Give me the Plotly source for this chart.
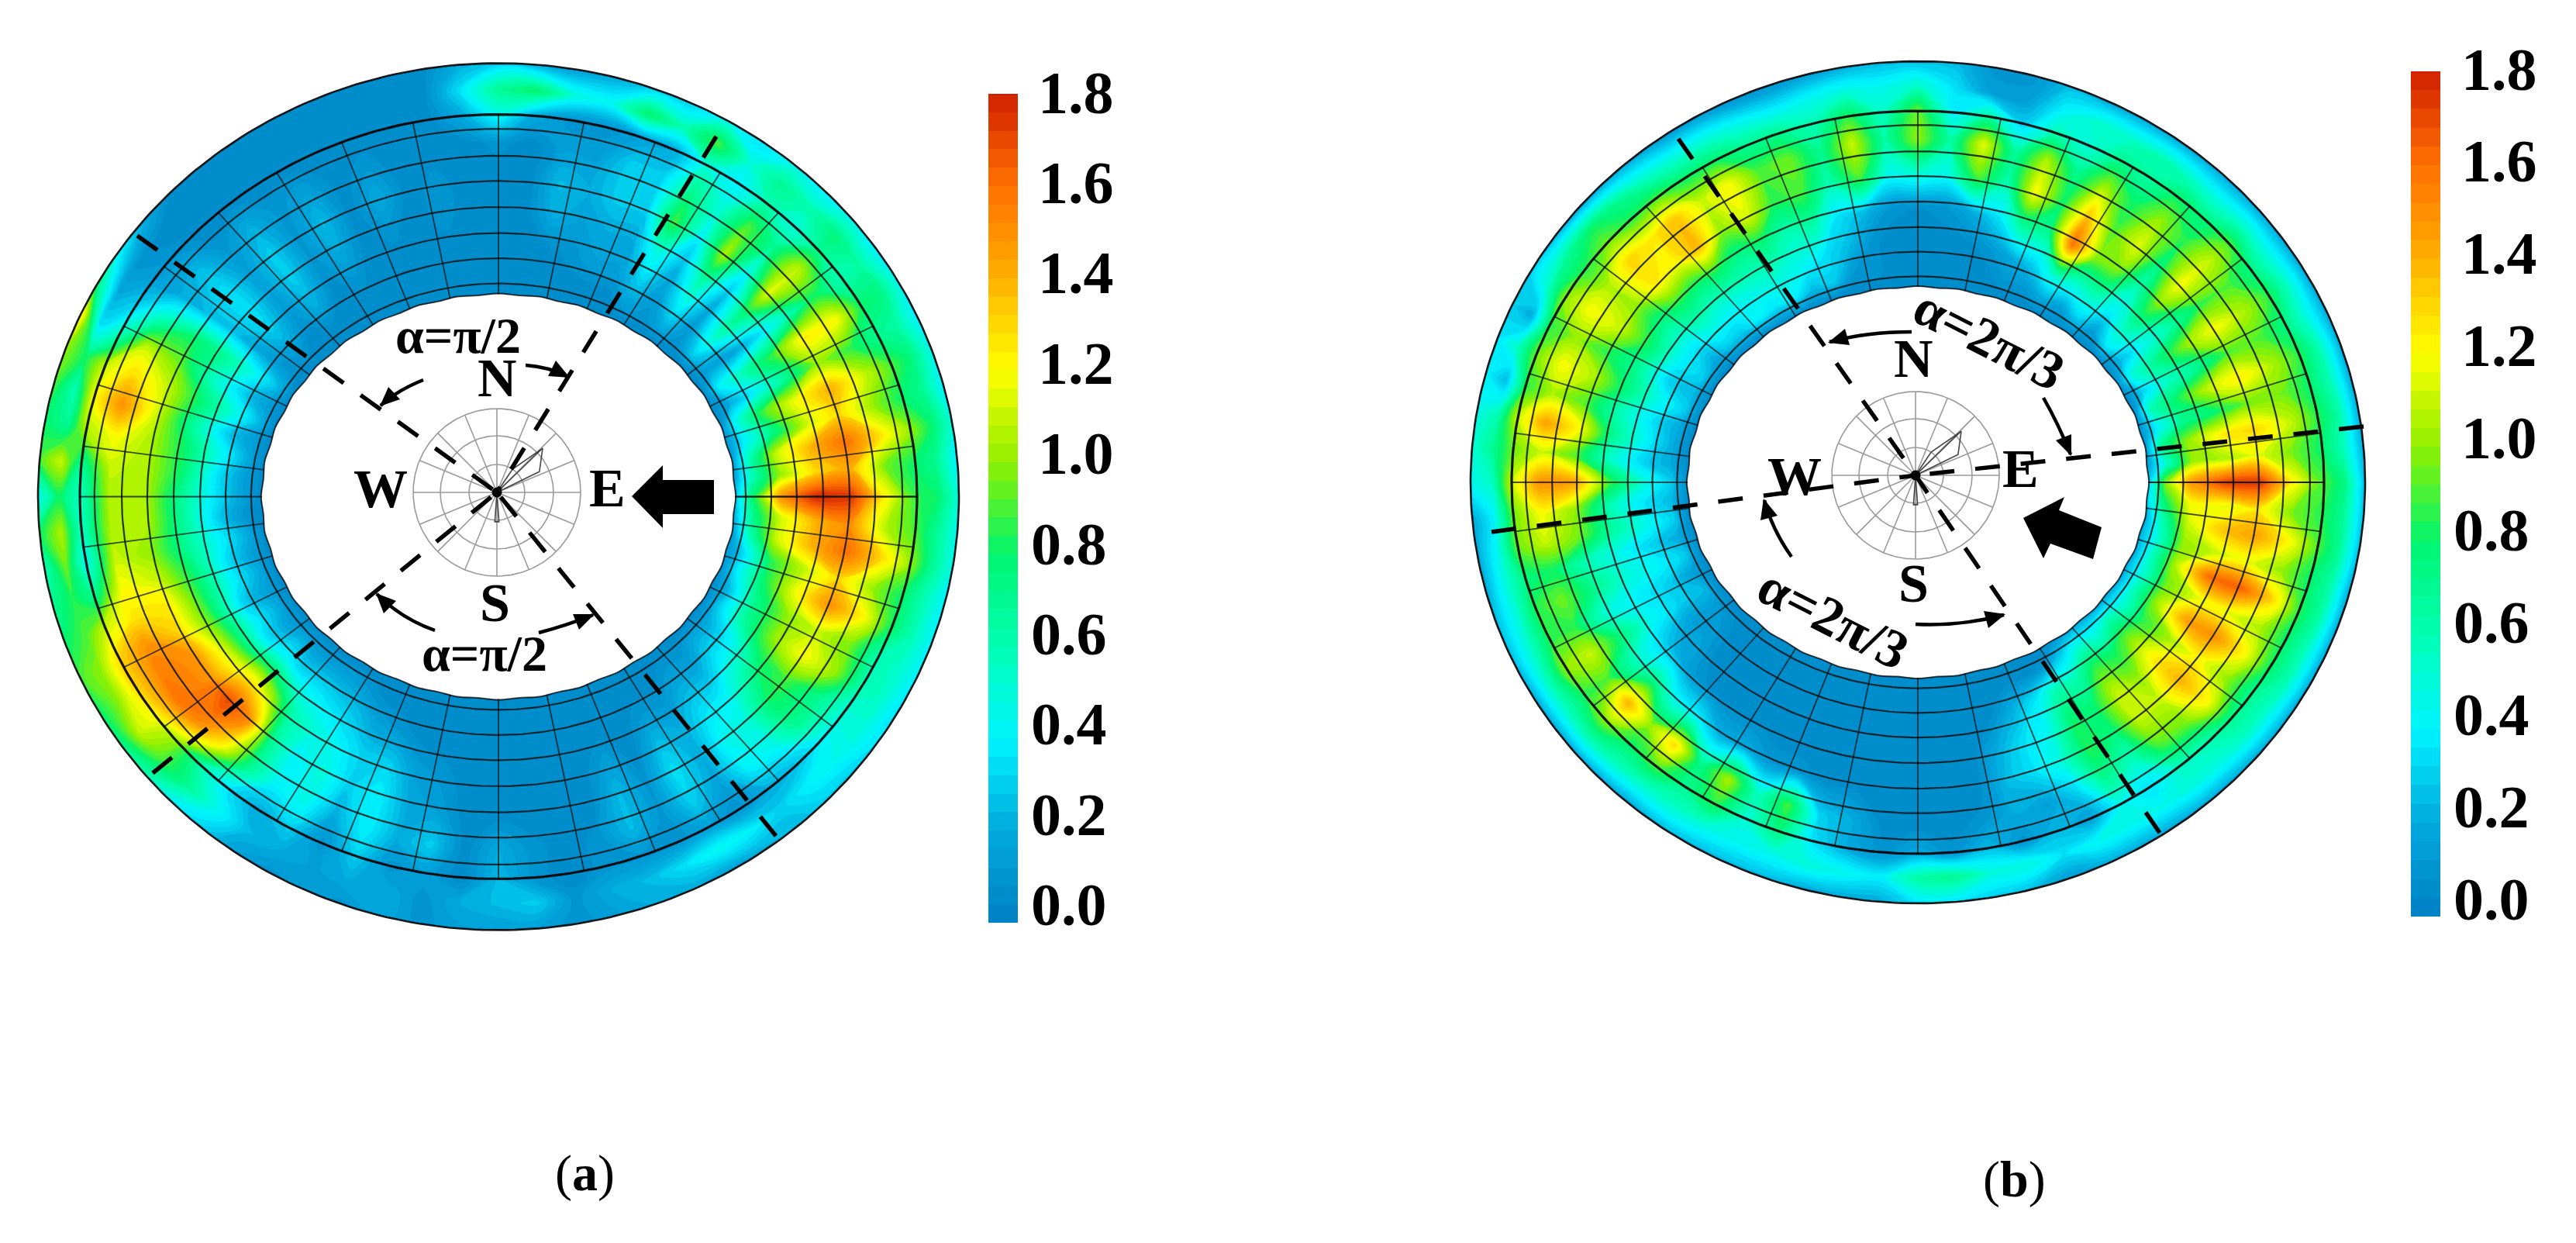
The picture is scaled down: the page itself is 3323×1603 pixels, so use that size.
import numpy as np
import plotly.graph_objects as go

W, H = 3323, 1603
FONT = "Liberation Serif"

# Colour bar scale
cb_ticks = [1.8, 1.6, 1.4, 1.2, 1.0, 0.8, 0.6, 0.4, 0.2, 0.0]
cb_text = ["1.8", "1.6", "1.4", "1.2", "1.0", "0.8", "0.6", "0.4", "0.2", "0.0"]

# Radial stations of the tables (0 = hole edge, 1 = bold ring, 1.285 = rim); columns run every 5 deg CCW from E
stations = [0, 0.10, 0.25, 0.45, 0.64, 0.84, 1.0, 1.14, 1.285]
grid_rings = [0.06, 0.20, 0.34, 0.485, 0.63, 0.77, 0.92]
spoke_q = [0, 7.6, 17, 26.5, 37, 48, 58, 68, 78.2]
inner_wave = [1.004, 0.998] * 36

# Panel (a)
a_r0 = [.3,.15,.15,.1,.1,.05,.05,.05,.05,.05,.05,.05,.05,.05,.05,.05,.05,.05,
        .05,.05,.05,.05,.05,.05,.05,.05,.05,.05,.05,.05,.05,.05,.05,.05,.05,.05,
        .05,.05,.05,.05,.05,.05,.05,.05,.05,.05,.05,.05,.05,.05,.05,.05,.05,.05,
        .05,.05,.05,.05,.05,.05,.05,.05,.05,.05,.05,.05,.05,.05,.1,.1,.15,.2]
a_r1 = [.8,.6,.6,.4,.5,.2,.4,.15,.3,.1,.2,.1,.15,.05,.05,.05,.05,.05,
        .05,.05,.05,.05,.05,.05,.05,.05,.05,.05,.1,.1,.25,.15,.25,.15,.2,.15,
        .15,.1,.2,.15,.2,.15,.2,.15,.2,.15,.15,.15,.1,.05,.05,.05,.05,.05,
        .05,.05,.05,.05,.05,.05,.05,.05,.1,.1,.2,.2,.3,.25,.4,.35,.6,.7]
a_r2 = [1.5,1.0,1.1,.7,.9,.4,.6,.15,.55,.15,.4,.15,.3,.15,.15,.1,.05,.05,
        .05,.05,.05,.05,.05,.05,.1,.05,.2,.1,.25,.15,.45,.3,.5,.3,.45,.35,
        .35,.3,.4,.35,.4,.3,.4,.35,.45,.35,.35,.3,.25,.15,.1,.05,.05,.05,
        .05,.05,.05,.05,.05,.05,.1,.1,.2,.2,.35,.4,.65,.7,.8,.85,1.1,1.1]
a_r3 = [1.8,1.3,1.4,1.1,1.2,.7,.9,.35,.75,.25,.65,.25,.5,.2,.2,.15,.2,.05,
        .05,.05,.1,.05,.1,.05,.2,.1,.3,.15,.35,.25,.7,.6,.8,.7,.8,.8,
        .7,.7,.7,.8,.85,.9,1.0,1.1,1.2,1.0,.6,.5,.4,.3,.3,.15,.1,.05,
        .05,.05,.05,.05,.15,.05,.25,.2,.35,.4,.6,.8,1.0,1.0,1.2,1.1,1.4,1.4]
a_r4 = [1.75,1.4,1.6,1.3,1.4,1.0,1.25,.6,1.15,.45,1.05,.4,.9,.3,.3,.2,.25,.05,
        .05,.05,.1,.05,.2,.05,.25,.1,.3,.15,.35,.25,.8,.95,1.1,1.1,1.05,1.05,
        1.05,1.05,1.0,1.1,1.25,1.3,1.5,1.5,1.7,1.5,.7,.4,.5,.3,.4,.2,.15,.05,
        .05,.05,.05,.05,.25,.1,.35,.2,.45,.5,.8,.9,1.2,1.1,1.5,1.3,1.6,1.5]
a_r5 = [1.2,.95,1.25,1.0,1.1,.85,1.2,.8,1.1,.7,.9,.5,.7,.3,.3,.15,.15,.05,
        .1,.05,.05,.05,.1,.05,.15,.1,.2,.1,.25,.2,.6,1.1,1.3,1.5,1.2,1.1,
        1.05,1.05,1.1,1.2,1.25,1.5,1.55,1.6,1.5,1.2,.7,.4,.45,.2,.4,.2,.3,.05,
        .2,.1,.05,.1,.25,.1,.3,.15,.4,.45,.7,.7,1.0,.95,1.2,1.0,1.3,1.05]
a_r6 = [.85,.8,1.0,.8,.9,.7,.8,.6,.7,.5,.6,.4,.5,.2,.15,.1,.1,.2,
        .45,.2,.05,.05,.05,.05,.05,.05,.05,.05,.1,.15,.3,.6,1.1,1.2,1.05,.7,
        .55,.55,.45,.7,1.1,1.3,1.3,1.2,1.0,.6,.35,.2,.3,.1,.3,.1,.15,.05,
        .25,.1,.05,.1,.1,.1,.15,.1,.2,.25,.4,.5,.6,.6,.8,.8,1.0,.9]
a_r7 = [.8,.7,.8,.7,.75,.65,.75,.65,.75,.6,.7,.5,.9,.6,.8,.45,.5,.8,
        .7,.35,.05,.05,.05,.05,.05,.05,.05,.05,.05,.1,.2,.35,.8,.6,.7,1.1,
        .8,1.05,.95,.85,.9,1.0,1.0,1.1,.9,.7,.45,.25,.2,.15,.2,.2,.1,.2,
        .25,.3,.1,.2,.25,.35,.45,.4,.3,.4,.45,.5,.55,.55,.6,.6,.7,.7]
a_r8 = [.5,.4,.5,.4,.45,.4,.45,.4,.45,.4,.45,.35,.45,.3,.3,.2,.15,.2,
        .3,.2,.05,.05,.05,.05,.05,.05,.05,.05,.2,.4,.7,1.3,1.0,.9,.8,.9,
        .45,.8,.6,.7,.8,.9,.8,.7,.6,.4,.3,.15,.1,.15,.1,.2,.1,.15,
        .15,.15,.1,.15,.2,.2,.15,.2,.25,.3,.3,.35,.35,.4,.4,.4,.45,.45]

# Panel (b)
b_r0 = [.3,.15,.15,.1,.1,.05,.1,.05,.05,.05,.05,.05,.05,.05,.05,.05,.05,.05,
        .05,.05,.05,.05,.05,.05,.05,.05,.05,.05,.05,.05,.05,.05,.05,.05,.05,.05,
        .1,.05,.05,.05,.05,.05,.05,.05,.05,.05,.05,.05,.05,.05,.05,.05,.05,.05,
        .05,.05,.05,.05,.05,.05,.05,.1,.2,.2,.2,.2,.2,.2,.2,.2,.2,.3]
b_r1 = [1.0,.5,.7,.4,.6,.3,.5,.25,.4,.15,.3,.15,.2,.1,.1,.05,.05,.05,
        .05,.05,.1,.1,.3,.25,.4,.35,.4,.3,.3,.2,.3,.25,.3,.2,.2,.2,
        .3,.25,.3,.2,.3,.15,.25,.15,.1,.05,.05,.05,.05,.05,.05,.05,.05,.05,
        .05,.05,.05,.05,.05,.05,.1,.3,.5,.45,.6,.5,.55,.5,.55,.5,.6,.8]
b_r2 = [1.5,1.0,1.0,.7,.8,.55,.7,.45,.6,.4,.55,.5,.55,.3,.2,.1,.05,.05,
        .05,.05,.1,.25,.35,.45,.5,.5,.45,.45,.5,.4,.4,.3,.45,.35,.4,.3,
        .5,.35,.45,.3,.4,.3,.3,.15,.15,.05,.05,.05,.05,.05,.05,.05,.05,.05,
        .05,.05,.05,.05,.2,.35,.6,.6,.85,.8,.95,.85,1.0,.95,1.05,1.0,1.1,1.2]
b_r3 = [1.75,1.05,1.25,.8,1.1,.7,1.0,.65,.95,.6,.95,1.0,1.6,.7,.7,.35,.2,.1,
        .08,.1,.25,.35,.65,.6,.75,.7,.8,.75,.8,.7,.8,.7,.75,.6,.7,.55,
        .9,.6,.65,.45,.5,.4,.45,.3,.2,.1,.05,.05,.05,.05,.05,.05,.05,.05,
        .05,.05,.05,.2,.35,.45,.8,.8,1.1,1.0,1.25,1.05,1.45,1.15,1.6,1.1,1.35,1.15]
b_r4 = [1.75,1.15,1.3,.95,1.25,.9,1.2,.85,1.2,.75,1.15,.9,1.35,.8,1.2,.6,.9,.45,
        .5,.45,.9,.6,.9,.85,1.15,1.0,1.4,1.2,1.25,1.0,1.1,.85,1.05,.9,1.2,.9,
        1.45,1.0,.95,.6,.7,.5,.75,.55,.7,.45,.4,.2,.2,.1,.1,.05,.05,.05,
        .05,.05,.05,.25,.35,.5,.85,.75,1.1,1.1,1.4,1.2,1.5,1.15,1.65,1.15,1.45,1.25]
b_r5 = [1.2,.95,1.1,.95,1.05,.9,1.05,.9,1.1,.85,1.0,.8,1.0,.7,1.05,.65,1.15,.65,
        1.0,.65,1.1,.7,.95,.9,1.2,1.1,1.35,1.25,1.3,1.05,1.2,1.0,1.2,1.05,1.45,1.1,
        1.5,1.2,1.1,.8,.95,.85,1.1,.9,1.4,1.0,1.3,.7,1.05,.55,.9,.3,.2,.05,
        .05,.05,.1,.2,.15,.3,.7,.55,.9,.95,1.2,1.0,1.2,1.05,1.3,1.0,1.2,.95]
b_r6 = [.9,.8,.85,.8,.85,.75,.85,.75,.9,.75,.8,.65,.7,.5,.6,.3,.65,.4,
        .95,.55,.85,.6,.7,.7,.8,.8,.9,.85,.95,.85,1.0,.85,.95,.85,1.1,.95,
        1.1,.95,.95,.75,.85,.85,1.0,.85,1.0,.8,.9,.7,.85,.5,.75,.35,.2,.1,
        .2,.1,.25,.1,.25,.15,.45,.35,.55,.6,.7,.7,.8,.8,.85,.8,.9,.85]
b_r7 = [.75,.6,.65,.6,.6,.5,.55,.5,.55,.5,.55,.6,.55,.55,.4,.15,.15,.35,
        .55,.45,.5,.45,.4,.45,.5,.5,.55,.7,.8,.7,.55,.2,.55,.25,.6,.7,
        .55,.4,.45,.5,.5,.55,.6,.6,.65,.6,.55,.55,.5,.45,.45,.5,.45,.4,
        .65,.7,.5,.5,.35,.45,.45,.45,.5,.5,.55,.55,.6,.6,.65,.65,.7,.7]
b_r8 = [.25,.2,.2,.2,.2,.2,.2,.2,.2,.2,.2,.2,.2,.2,.25,.1,.1,.25,
        .25,.25,.2,.15,.1,.1,.15,.15,.2,.2,.2,.25,.3,.3,.35,.4,.45,.5,
        .45,.2,.2,.2,.25,.25,.2,.2,.2,.2,.2,.25,.25,.25,.25,.2,.2,.2,
        .35,.35,.3,.25,.15,.2,.2,.2,.2,.2,.2,.2,.2,.2,.2,.2,.25,.25]

# Wind rose petals (direction deg CCW from E, length in px)
rose_rings = [36, 73, 108]
rose_petal_deg = [0, 44, 26, 0, 56, 44, 0, 266, 274, 0]
rose_petal_len = [0, 82, 61, 0, 36, 82, 0, 38, 38, 0]

colorscale = [[0, "#0080c4"], [0.111, "#00aadd"], [0.222, "#00f4ff"], [0.333, "#00ffb4"],
              [0.444, "#00f56e"], [0.556, "#90f000"], [0.667, "#ffff00"], [0.778, "#ffb000"],
              [0.889, "#ff7000"], [1, "#d02000"]]

panels = [
    dict(id="a", cx=635, cy=632.5, hw=(305, 540, 594), hh=(261, 493, 559),
         rings=[a_r0, a_r1, a_r2, a_r3, a_r4, a_r5, a_r6, a_r7, a_r8],
         rose=(633, 627), dashes=[(916, 168), (169, 296), (189, 989), (993, 1070)],
         bar=(1267, 113, 1182), lab=(1329, 1320, 111, 116.4)),
    dict(id="b", cx=2466, cy=614, hw=(297, 524, 577), hh=(252, 479, 543),
         rings=[b_r0, b_r1, b_r2, b_r3, b_r4, b_r5, b_r6, b_r7, b_r8],
         rose=(2463, 605), dashes=[(3041, 542), (1916, 678), (2157, 171), (2778, 1066)],
         bar=(3102, 84, 1174), lab=(3165, 3155, 81, 118.9)),
]

fig = go.Figure()
shapes = []
ann = []


def radii(p, fr):
    k = [0, 1, 1.285]
    return np.interp(fr, k, p["hw"]), np.interp(fr, k, p["hh"])


for p in panels:
    ang = np.deg2rad(np.arange(73) * 5.0)
    X, Y, Z = [], [], []
    wave = np.array(inner_wave + inner_wave[:1])
    for s, vals in zip(stations, p["rings"]):
        rx, ry = radii(p, s)
        f = wave if s == 0 else 1.0
        X.append(p["cx"] + rx * f * np.cos(ang))
        Y.append(p["cy"] - ry * f * np.sin(ang))
        Z.append(list(vals) + [vals[0]])
    cid = "c" + p["id"]
    a_idx = list(range(73))
    b_idx = list(range(len(stations)))
    axis = dict(showgrid=False, showticklabels="none", showline=False, startline=False,
                endline=False, minorgridcount=0, smoothing=0)
    fig.add_trace(go.Carpet(carpet=cid, a=a_idx, b=b_idx, x=np.array(X), y=np.array(Y),
                            aaxis=axis, baxis=axis))
    x0, y0, y1 = p["bar"]
    fig.add_trace(go.Contourcarpet(
        carpet=cid, a=a_idx, b=b_idx, z=Z, colorscale=colorscale, zmin=0, zmax=1.8,
        autocontour=False, contours=dict(start=0, end=1.8, size=0.04, coloring="fill"),
        line=dict(width=0, smoothing=1),
        colorbar=dict(x=x0 / W, xanchor="left", xpad=0, ypad=0, y=1 - (y0 + y1) / 2 / H, yanchor="middle",
                      len=(y1 - y0) / H, lenmode="fraction", thickness=38, thicknessmode="pixels",
                      outlinewidth=0, tickvals=cb_ticks, ticks="", showticklabels=False)))
    for v in cb_ticks[1:-1]:
        yy = y0 + (1.8 - v) / 1.8 * (y1 - y0)
        for xa, xb in ((x0, x0 + 12), (x0 + 25, x0 + 38)):
            shapes.append(dict(type="line", x0=xa, x1=xb, y0=yy, y1=yy, xref="x", yref="y",
                               line=dict(color="rgba(40,40,40,.55)", width=2)))
    xl1, xl0, ly0, lstep = p["lab"]
    for i, (v, s) in enumerate(zip(cb_ticks, cb_text)):
        ann.append(dict(x=xl1 if v >= 1 else xl0, y=ly0 + i * lstep, text=f"<b>{s}</b>", showarrow=False,
                        xanchor="left", yanchor="middle", font=dict(family=FONT, size=78, color="black")))

    t = np.deg2rad(np.linspace(0, 360, 361))
    # thin rings
    xs, ys = [], []
    for fr in grid_rings:
        rx, ry = radii(p, fr)
        xs += list(p["cx"] + rx * np.cos(t)) + [None]
        ys += list(p["cy"] - ry * np.sin(t)) + [None]
    fig.add_trace(go.Scatter(x=xs, y=ys, mode="lines", line=dict(color="rgba(10,20,20,.85)", width=2.2),
                             hoverinfo="skip", showlegend=False))
    # spokes, same spacing in each quadrant
    xs, ys = [], []
    rx0, ry0 = radii(p, 0)
    rx1, ry1 = radii(p, 1)
    spokes = sorted(set([q for q in spoke_q] + [180 - q for q in spoke_q] + [180 + q for q in spoke_q]
                        + [360 - q for q in spoke_q] + [90, 270]))
    for d in spokes:
        r = np.deg2rad(d)
        xs += [p["cx"] + rx0 * np.cos(r), p["cx"] + rx1 * np.cos(r), None]
        ys += [p["cy"] - ry0 * np.sin(r), p["cy"] - ry1 * np.sin(r), None]
    fig.add_trace(go.Scatter(x=xs, y=ys, mode="lines", line=dict(color="rgba(10,20,20,.75)", width=1.8),
                             hoverinfo="skip", showlegend=False))
    # bold ring, rim and scalloped hole edge
    for fr, w in ((1, 3.2), (1.285, 2.6)):
        rx, ry = radii(p, fr)
        fig.add_trace(go.Scatter(x=p["cx"] + rx * np.cos(t), y=p["cy"] - ry * np.sin(t), mode="lines",
                                 line=dict(color="rgba(0,0,0,.9)", width=w),
                                 hoverinfo="skip", showlegend=False))
    fig.add_trace(go.Scatter(x=X[0], y=Y[0], mode="lines", line=dict(color="rgba(0,0,0,.75)", width=2, shape="spline"),
                             hoverinfo="skip", showlegend=False))
    # wind rose
    rc = p["rose"]
    xs, ys = [], []
    for r in rose_rings:
        xs += list(rc[0] + r * np.cos(t)) + [None]
        ys += list(rc[1] - r * np.sin(t)) + [None]
    for d in np.arange(0, 360, 22.5):
        q = np.deg2rad(d)
        xs += [rc[0], rc[0] + 108 * np.cos(q), None]
        ys += [rc[1], rc[1] - 108 * np.sin(q), None]
    fig.add_trace(go.Scatter(x=xs, y=ys, mode="lines", line=dict(color="#9a9a9a", width=1.6),
                             hoverinfo="skip", showlegend=False))
    q = np.deg2rad(rose_petal_deg)
    fig.add_trace(go.Scatter(x=rc[0] + np.array(rose_petal_len) * np.cos(q),
                             y=rc[1] - np.array(rose_petal_len) * np.sin(q), mode="lines",
                             line=dict(color="#444444", width=1.6), hoverinfo="skip", showlegend=False))
    fig.add_trace(go.Scatter(x=[rc[0]], y=[rc[1]], mode="markers", marker=dict(color="black", size=13),
                             hoverinfo="skip", showlegend=False))
    # dashed sector lines
    for e in p["dashes"]:
        fig.add_trace(go.Scatter(x=[e[0], rc[0]], y=[e[1], rc[1]], mode="lines",
                                 line=dict(color="black", width=5.5, dash="32px,27px"),
                                 hoverinfo="skip", showlegend=False))

# big wind arrows
shapes.append(dict(type="path", xref="x", yref="y", fillcolor="black", line=dict(width=0),
                   path="M807,632 L847,592 L847,611 L913,611 L913,655 L847,655 L847,673 Z"))
shapes.append(dict(type="path", xref="x", yref="y", fillcolor="black", line=dict(width=0),
                   path="M2602,660 L2655,633 L2648,650 L2703,672 L2692,713 L2637,693 L2628,712 Z"))

# curved sector arrows: start, control, end
curved = [((538, 482), (505, 495), (483, 515)), ((670, 463), (700, 465), (725, 478)),
          ((553, 805), (510, 790), (478, 758)), ((687, 808), (725, 798), (757, 785)),
          ((2458, 420), (2400, 420), (2352, 433)), ((2628, 505), (2648, 540), (2663, 578)),
          ((2303, 710), (2278, 675), (2268, 637)), ((2463, 797), (2520, 800), (2577, 785))]
for a0, c, a1 in curved:
    shapes.append(dict(type="path", xref="x", yref="y", line=dict(color="black", width=4.5),
                       path=f"M{a0[0]},{a0[1]} Q{c[0]},{c[1]} {a1[0]},{a1[1]}"))
    d = np.array(a1, float) - np.array(c, float)
    d /= np.hypot(*d)
    n = np.array([-d[1], d[0]])
    b = np.array(a1) - d * 24
    l, r = b + n * 11, b - n * 11
    tip = np.array(a1) + d * 2
    shapes.append(dict(type="path", xref="x", yref="y", fillcolor="black", line=dict(width=0),
                       path=f"M{tip[0]:.0f},{tip[1]:.0f} L{l[0]:.0f},{l[1]:.0f} L{r[0]:.0f},{r[1]:.0f} Z"))

labels = [("N", 633, 479, 70, 0), ("E", 775, 621, 70, 0), ("S", 630, 769, 70, 0), ("W", 483, 622, 70, 0),
          ("α=π/2", 583, 424, 66, 0), ("α=π/2", 617, 834, 66, 0),
          ("N", 2460, 454, 70, 0), ("E", 2598, 596, 70, 0), ("S", 2460, 744, 70, 0), ("W", 2307, 606, 70, 0),
          ("α=2π/3", 2558, 429, 70, 27), ("α=2π/3", 2357, 789, 70, 27)]
ann += [dict(x=x, y=y, text=f"<b>{s}</b>", showarrow=False, textangle=a, xanchor="center", yanchor="middle",
             font=dict(family=FONT, size=sz, color="black")) for s, x, y, sz, a in labels]
ann.append(dict(x=746, y=1505, text="(<b>a</b>)", showarrow=False, font=dict(family=FONT, size=66, color="black")))
ann.append(dict(x=2590, y=1513, text="(<b>b</b>)", showarrow=False, font=dict(family=FONT, size=66, color="black")))

fig.update_layout(
    width=W, height=H, margin=dict(l=0, r=0, t=0, b=0, autoexpand=False), showlegend=False,
    paper_bgcolor="white", plot_bgcolor="white", shapes=shapes, annotations=ann,
    xaxis=dict(range=[0, W], visible=False, fixedrange=True, domain=[0, 1]),
    yaxis=dict(range=[H, 0], visible=False, fixedrange=True, domain=[0, 1]),
)
fig.write_html("out.html")
